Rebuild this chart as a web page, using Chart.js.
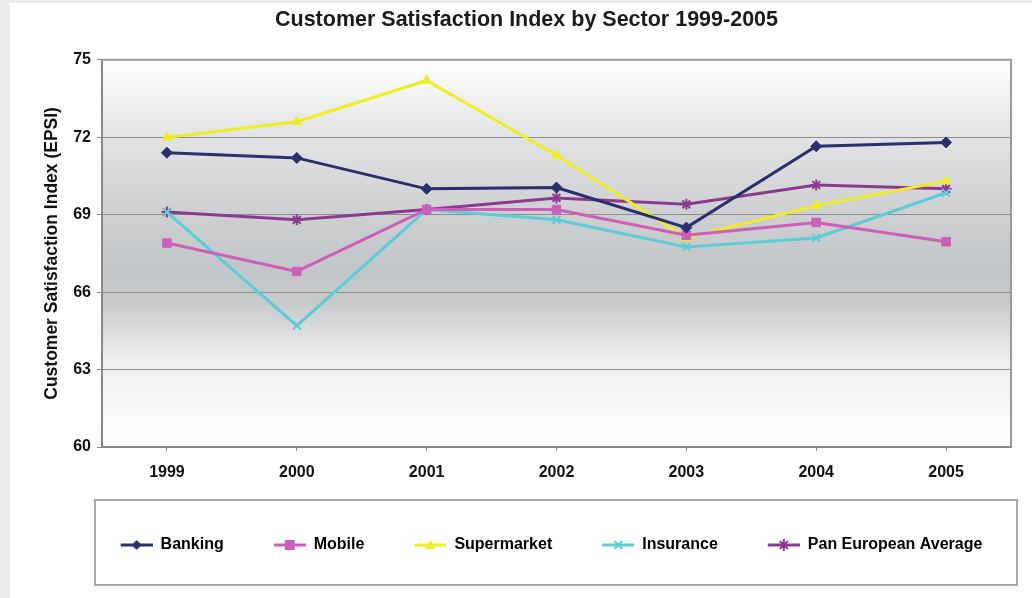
<!DOCTYPE html>
<html>
<head>
<meta charset="utf-8">
<script src="https://cdn.jsdelivr.net/npm/chart.js"></script>
<style>
  body { margin: 0; background: #ebebeb; }
  #wrap { position: absolute; left: 10px; top: 3px; width: 1022px; height: 595px; background: #fff; }
</style>
</head>
<body>
<div id="wrap"><canvas id="myChart" width="1022" height="595"></canvas></div>
<script>
const years = ['1999', '2000', '2001', '2002', '2003', '2004', '2005'];
const banking = [71.4, 71.2, 70.0, 70.05, 68.5, 71.65, 71.8];
const mobile = [67.9, 66.8, 69.2, 69.2, 68.2, 68.7, 67.95];
const supermarket = [72.0, 72.6, 74.2, 71.3, 68.1, 69.35, 70.3];
const insurance = [69.1, 64.7, 69.2, 68.8, 67.75, 68.1, 69.85];
const panEuropean = [69.1, 68.8, 69.2, 69.65, 69.4, 70.15, 70.0];
const yTicks = [60, 63, 66, 69, 72, 75];

const seriesNames = ['Banking', 'Mobile', 'Supermarket', 'Insurance', 'Pan European Average'];
const seriesColors = ['#2b2f6b', '#cc5fb8', '#eeee22', '#5ccdd6', '#8b3a8f'];
const seriesMarkers = ['rectRot', 'rect', 'triangle', 'crossRot', 'star'];

// legend picture: blank gap on the left, then a short line with the marker
const GAP = 50;
function legendIcon(color, marker) {
    const c = document.createElement('canvas');
    c.width = GAP + 32; c.height = 14;
    const g = c.getContext('2d');
    g.translate(GAP, 0);
    g.strokeStyle = color; g.fillStyle = color; g.lineWidth = 3;
    g.beginPath(); g.moveTo(0, 7); g.lineTo(32, 7); g.stroke();
    g.lineWidth = 2;
    g.beginPath();
    if (marker === 'rectRot') {
        g.moveTo(16, 2); g.lineTo(21, 7); g.lineTo(16, 12); g.lineTo(11, 7); g.closePath(); g.fill();
    } else if (marker === 'rect') {
        g.fillRect(11, 2, 10, 10);
    } else if (marker === 'triangle') {
        g.moveTo(16, 2); g.lineTo(21, 11); g.lineTo(11, 11); g.closePath(); g.fill();
    } else if (marker === 'crossRot') {
        g.moveTo(12, 3); g.lineTo(20, 11); g.moveTo(20, 3); g.lineTo(12, 11); g.stroke();
    } else {
        g.moveTo(12, 3); g.lineTo(20, 11); g.moveTo(20, 3); g.lineTo(12, 11);
        g.moveTo(16, 1); g.lineTo(16, 13); g.stroke();
    }
    return c;
}

const allValues = [banking, mobile, supermarket, insurance, panEuropean];
const datasets = allValues.map((vals, i) => ({
    label: seriesNames[i],
    data: vals,
    borderColor: seriesColors[i],
    backgroundColor: seriesColors[i],
    borderWidth: 3,
    pointStyle: seriesMarkers[i],
    pointRadius: seriesMarkers[i] === 'rect' ? 6 : 5.5,
    pointBorderWidth: seriesMarkers[i] === 'crossRot' || seriesMarkers[i] === 'star' ? 2 : 1,
    tension: 0
}));

const frame = {
    id: 'frame',
    beforeDraw(chart) {
        const { ctx, chartArea: a } = chart;
        const grad = ctx.createLinearGradient(0, a.top, 0, a.bottom);
        grad.addColorStop(0, '#ffffff');
        grad.addColorStop(0.2, '#e2e3e4');
        grad.addColorStop(0.4, '#cdcfd1');
        grad.addColorStop(0.55, '#c3c6c8');
        grad.addColorStop(0.63, '#c8cacc');
        grad.addColorStop(0.78, '#f0f0f0');
        grad.addColorStop(1, '#ffffff');
        ctx.save();
        ctx.fillStyle = grad;
        ctx.fillRect(a.left, a.top, a.right - a.left, a.bottom - a.top);
        ctx.restore();
    },
    afterDraw(chart) {
        const { ctx, chartArea: a, legend: l } = chart;
        ctx.save();
        ctx.strokeStyle = '#9a9a9a';
        ctx.lineWidth = 2;
        ctx.beginPath();
        ctx.moveTo(a.left, a.top); ctx.lineTo(a.right, a.top); ctx.lineTo(a.right, a.bottom);
        ctx.stroke();
        ctx.strokeStyle = '#a8a8a8';
        ctx.strokeRect(a.left - 7, l.top - 37, a.right - a.left + 13, 85);
        ctx.restore();
    }
};

new Chart('myChart', {
    type: 'line',
    data: { labels: years, datasets: datasets },
    options: {
        responsive: false,
        animation: false,
        layout: { padding: { left: 32, right: 21, top: 0, bottom: 35 } },
        plugins: {
            title: {
                display: true,
                text: 'Customer Satisfaction Index by Sector 1999-2005',
                color: '#1a1a1a',
                font: { family: 'Liberation Sans', size: 21.5, weight: 'bold' },
                padding: { top: 4, bottom: 27 }
            },
            legend: {
                position: 'bottom',
                labels: {
                    usePointStyle: true,
                    pointStyleWidth: GAP + 32,
                    padding: 0,
                    color: '#111',
                    font: { family: 'Liberation Sans', size: 16, weight: 'bold' },
                    generateLabels(chart) {
                        return chart.data.datasets.map((d, i) => ({
                            text: d.label,
                            pointStyle: legendIcon(seriesColors[i], seriesMarkers[i]),
                            fillStyle: seriesColors[i],
                            strokeStyle: seriesColors[i],
                            lineWidth: 0,
                            datasetIndex: i
                        }));
                    }
                }
            },
            tooltip: { enabled: false }
        },
        scales: {
            x: {
                offset: true,
                grid: { drawOnChartArea: false, drawTicks: true, tickLength: 4, tickColor: '#888' },
                border: { color: '#888', width: 2 },
                ticks: { color: '#111', padding: 12, font: { family: 'Liberation Sans', size: 16, weight: 'bold' } },
                afterFit(scale) { scale.height = 90; }
            },
            y: {
                min: 60, max: 75,
                afterBuildTicks(scale) { scale.ticks = yTicks.map(v => ({ value: v })); },
                grid: { color: '#8e8e8e', tickLength: 5, tickColor: '#888' },
                border: { color: '#888', width: 2 },
                ticks: { color: '#111', padding: 6, font: { family: 'Liberation Sans', size: 16, weight: 'bold' } },
                title: {
                    display: true,
                    text: 'Customer Satisfaction Index (EPSI)',
                    color: '#111',
                    padding: 0,
                    font: { family: 'Liberation Sans', size: 17.5, weight: 'bold' }
                },
                afterFit(scale) { scale.width = 60; }
            }
        }
    },
    plugins: [frame]
});
</script>
</body>
</html>
